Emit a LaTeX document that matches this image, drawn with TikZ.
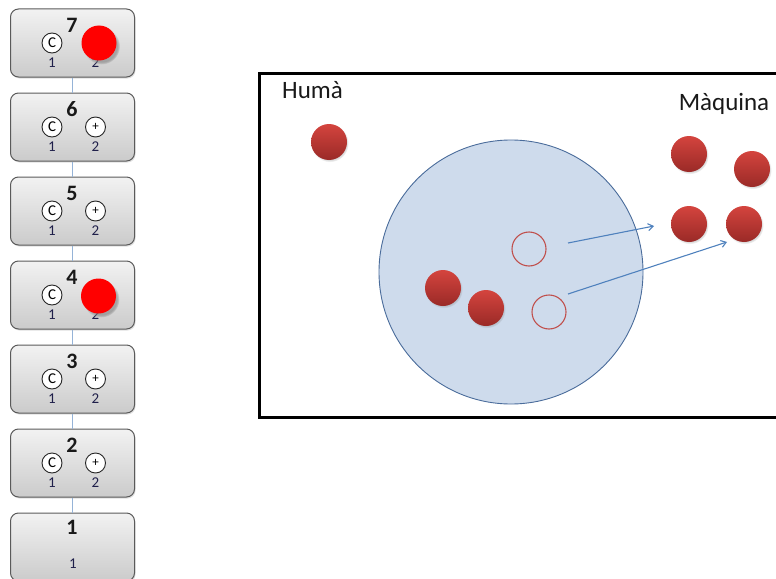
\documentclass[tikz,border=0pt]{standalone}
\usepackage{fontspec}
\setmainfont{Carlito}
\usetikzlibrary{shadows,arrows.meta}

\definecolor{boxtop}{HTML}{F2F2F2}
\definecolor{boxbot}{HTML}{CBCBCB}
\definecolor{boxedge}{HTML}{5A5A5A}
\definecolor{linkblue}{HTML}{95B3D7}
\definecolor{ballhi}{HTML}{D4443E}
\definecolor{balllo}{HTML}{9A2A27}
\definecolor{discfill}{HTML}{CEDBEC}
\definecolor{discedge}{HTML}{4A6C9B}
\definecolor{ringred}{HTML}{C0504D}
\definecolor{arrowblue}{HTML}{4F81BD}
\definecolor{digitnavy}{HTML}{1F1F4A}

\tikzset{
  stagebox/.style={draw=boxedge, line width=1pt, rounded corners=8pt,
    top color=boxtop, bottom color=boxbot, minimum width=124pt,
    minimum height=68pt, inner sep=0pt,
    drop shadow={shadow xshift=1pt, shadow yshift=-1.5pt, opacity=0.25}},
  stagenum/.style={font=\fontsize{22}{22}\selectfont\bfseries, inner sep=0pt, text=black!90},
  slot/.style={circle, draw=black!85, line width=0.9pt, fill=white,
    minimum size=20pt, inner sep=0pt, font=\fontsize{15}{15}\selectfont},
  slotnum/.style={font=\fontsize{15}{15}\selectfont, text=digitnavy, inner sep=0pt},
  redmark/.style={circle, fill=red, minimum size=35pt, inner sep=0pt,
    circular drop shadow={shadow xshift=2.5pt, shadow yshift=-3pt, shadow scale=1.05, opacity=0.6}},
  link/.style={draw=linkblue, line width=1pt},
  ball/.style={circle, minimum size=36pt, inner sep=0pt, top color=ballhi,
    bottom color=balllo, draw=none,
    circular drop shadow={shadow xshift=0.8pt, shadow yshift=-1.2pt, shadow scale=1.05, opacity=0.35}},
  ring/.style={circle, draw=ringred, line width=1.1pt, fill=none,
    minimum size=34pt, inner sep=0pt},
  label/.style={font=\fontsize{25}{25}\selectfont, text=black!90, inner sep=0pt},
  flow/.style={draw=arrowblue, line width=1.1pt, -{Straight Barb[length=5pt,width=7pt]}}
}

\begin{document}
\begin{tikzpicture}[x=1pt, y=-1pt]
\clip (0,0) rectangle (776,578);

% stack of stages
\foreach \n/\cy in {7/43, 6/127, 5/211, 4/295, 3/379, 2/463, 1/547} {
  \node[stagebox] (b\n) at (72.5,\cy) {};
}
\foreach \a/\b in {7/6, 6/5, 5/4, 4/3, 3/2, 2/1} {
  \draw[link] (b\a.south) -- (b\b.north);
}
\foreach \n/\cy in {7/43, 6/127, 5/211, 4/295, 3/379, 2/463} {
  \node[stagenum] (n\n) at (72,\cy-17.5) {\n};
  \node[slot] (c\n) at (52,\cy) {C};
  \node[slotnum] (one\n) at (52,\cy+20) {1};
  \node[slot, font=\fontsize{13}{13}\selectfont] (p\n) at (95.5,\cy) {+};
  \node[slotnum] (two\n) at (95.5,\cy+20) {2};
}
\node[stagenum] (n1) at (72,527.5) {1};
\node[slotnum] (one1) at (73,564) {1};

% occupied slots
\node[redmark] (r7) at (99,43) {};
\node[redmark] (r4) at (98.5,296) {};

% frame with the two groups
\node[draw=black, line width=2.6pt, minimum width=540pt, minimum height=344pt,
  anchor=north west, inner sep=0pt] (frame) at (258,72) {};
\node[label, anchor=base west] (human) at (282,99) {Humà};
\node[label, anchor=base] (machine) at (724,110) {Màquina};

\node[circle, draw=discedge, line width=0.9pt, fill=discfill,
  minimum size=264pt, inner sep=0pt] (disc) at (511,272) {};

\node[ball] (h1) at (329,142) {};
\node[ball] (m1) at (689,154) {};
\node[ball] (m2) at (752,169) {};
\node[ball] (m3) at (689,224) {};
\node[ball] (m4) at (744,224) {};
\node[ball] (d1) at (443,288) {};
\node[ball] (d2) at (486,308) {};
\node[ring] (e1) at (529,249) {};
\node[ring] (e2) at (549,312) {};

\coordinate (s1) at (568,243);
\coordinate (t1) at (654,226);
\coordinate (s2) at (568,294);
\coordinate (t2) at (727,242);
\draw[flow] (s1) -- (t1);
\draw[flow] (s2) -- (t2);
\end{tikzpicture}
\end{document}
